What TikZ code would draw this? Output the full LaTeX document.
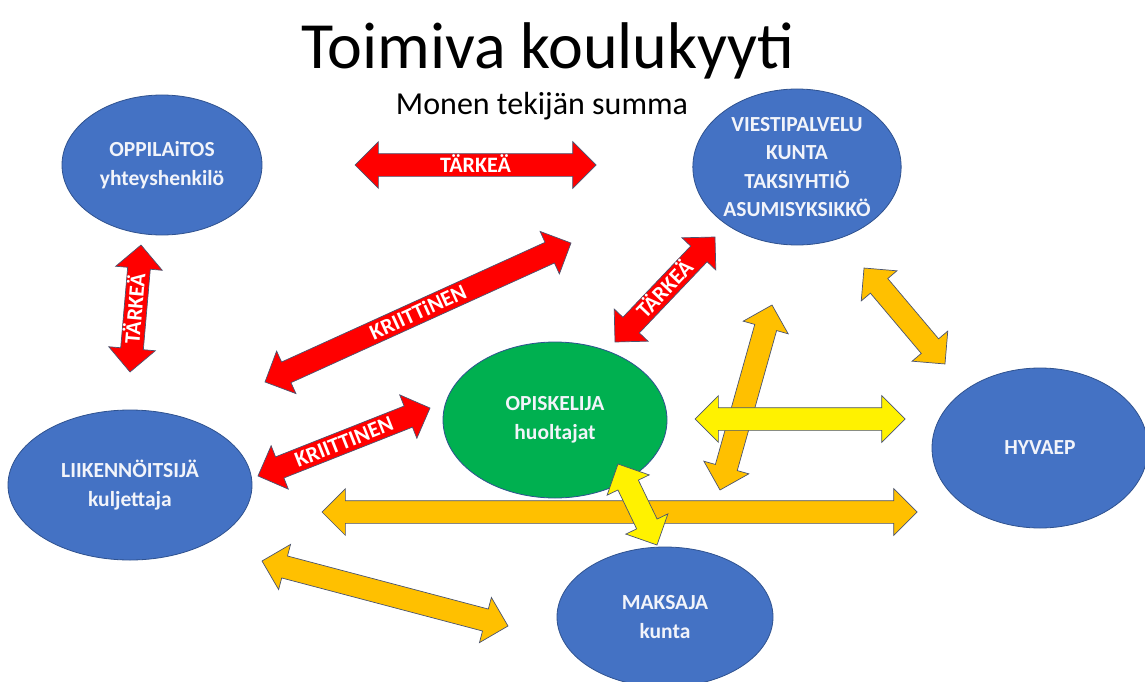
\documentclass[tikz,border=0pt]{standalone}
\usepackage{fontspec}
\setmainfont{Carlito}
\usetikzlibrary{shapes.geometric,shapes.arrows,calc}

\definecolor{officeblue}{HTML}{4472C4}
\definecolor{edgeblue}{HTML}{2F528F}
\definecolor{officegreen}{HTML}{00B050}
\definecolor{officeorange}{HTML}{FFC000}
\definecolor{arrowedge}{HTML}{4A5470}
\definecolor{paletext}{HTML}{F2F4FA}

\begin{document}
\begin{tikzpicture}[x=1pt, y=-1pt,
  party/.style={ellipse, draw=edgeblue, line width=0.8pt, fill=officeblue, text=paletext, align=center, inner sep=0pt, font=\fontsize{21.5}{28.5}\selectfont\bfseries},
  link/.style={double arrow, draw=arrowedge, line width=0.7pt, double arrow head extend=12pt, double arrow tip angle=90, text height=14pt, text depth=0pt, inner ysep=4pt, inner xsep=0pt, text=white, font=\fontsize{22}{24}\selectfont\bfseries}]

\useasboundingbox (0,0) rectangle (1145,682);

% Title
\node[anchor=base, font=\fontsize{66}{70}\selectfont] (T) at (548,69) {Toimiva koulukyyti};
\node[anchor=base, font=\fontsize{32}{36}\selectfont] (S) at (542,115) {Monen tekijän summa};

% Parties
\node[party, minimum width=200pt, minimum height=140pt] (OPP) at (162,165) {OPPILAiTOS\\yhteyshenkilö};
\node[party, minimum width=204pt, minimum height=156pt] (VIE) at (797,167) {VIESTIPALVELU\\KUNTA\\TAKSIYHTIÖ\\ASUMISYKSIKKÖ};
\node[party, fill=officegreen, minimum width=224pt, minimum height=156pt] (OPI) at (555,420) {OPISKELIJA\\huoltajat};
\node[party, minimum width=244pt, minimum height=150pt] (LII) at (130,485) {LIIKENNÖITSIJÄ\\kuljettaja};
\node[party, minimum width=216pt, minimum height=160pt] (HYV) at (1040,448) {HYVAEP};
\node[party, minimum width=216pt, minimum height=140pt] (MAK) at (665,617) {MAKSAJA\\kunta};

% Arrow ends
\coordinate (a1) at (322,512);  \coordinate (b1) at (917,512);
\coordinate (a2) at (720,490);  \coordinate (b2) at (772,305);
\coordinate (a3) at (864,268);  \coordinate (b3) at (945,364);
\coordinate (a4) at (262,561);  \coordinate (b4) at (508,626);
\coordinate (a5) at (355,165);  \coordinate (b5) at (596,165);
\coordinate (a6) at (130,372);  \coordinate (b6) at (141,245);
\coordinate (a7) at (265,382);  \coordinate (b7) at (571,243);
\coordinate (a8) at (615,342);  \coordinate (b8) at (715,237);
\coordinate (a9) at (258,476);  \coordinate (b9) at (430,408);
\coordinate (a10) at (695,419); \coordinate (b10) at (905,419);
\coordinate (a11) at (618,464); \coordinate (b11) at (657,545);

% Arrows
\foreach \s/\e/\c/\t [count=\k] in {a1/b1/officeorange/, a2/b2/officeorange/, a3/b3/officeorange/, a4/b4/officeorange/,
    a5/b5/red/TÄRKEÄ, a6/b6/red/TÄRKEÄ, a7/b7/red/KRIITTiNEN, a8/b8/red/TÄRKEÄ, a9/b9/red/KRIITTINEN,
    a10/b10/yellow/, a11/b11/yellow/}
  \path let \p1=($(\e)-(\s)$), \n1={veclen(\x1,\y1)}, \n2={atan2(\y1,\x1)} in
    node[link, fill=\c, minimum height=\n1, rotate=\n2] (L\k) at ($(\s)!0.5!(\e)$) {\t};

\end{tikzpicture}
\end{document}
